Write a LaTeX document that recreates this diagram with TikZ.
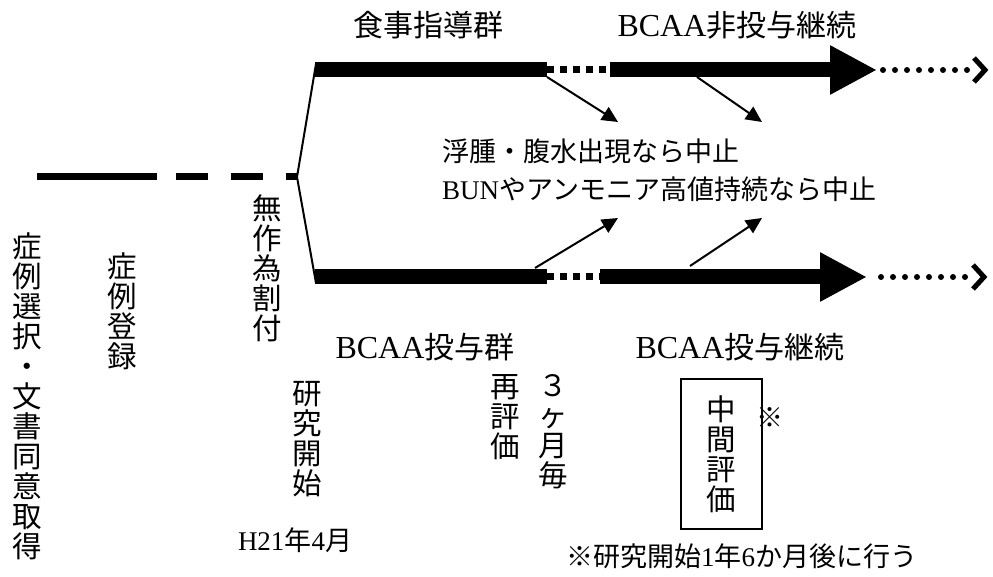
\documentclass[tikz,border=0pt]{standalone}
\usepackage{fontspec}
\setmainfont{Liberation Serif}
\newfontfamily\cjk{Noto Sans CJK JP}
\usetikzlibrary{arrows.meta,calc}
\newcommand\latbig[1]{{\rmfamily\fontsize{32}{34}\selectfont #1}}
\newcommand\latmid[1]{{\rmfamily #1}}
\begin{document}
\begin{tikzpicture}[x=1pt,y=-1pt,
 lbl/.style={inner sep=0pt,font=\fontsize{27}{30}\selectfont\cjk},
 grp/.style={inner sep=0pt,font=\fontsize{30}{34}\selectfont\cjk},
 vt/.style={inner sep=0pt,font=\fontsize{29.5}{30}\selectfont\cjk,align=center,anchor=north},
 bar/.style={line width=15pt},
 bararrow/.style={bar,-{Triangle[length=47pt,width=46pt]}},
 sqdots/.style={line width=7pt,dash pattern=on 7pt off 6pt},
 rdots/.style={line width=6pt,line cap=round,dash pattern=on 0pt off 12pt},
 chev/.style={line width=5pt,miter limit=10},
 thinline/.style={line width=2pt},
 smallarrow/.style={line width=2pt,-{Triangle[length=16pt,width=15pt]}},
 lead/.style={line width=7pt,dash pattern=on 120pt off 19pt on 32pt off 23pt on 32pt off 23pt on 11pt off 100pt}]
\useasboundingbox (0,0) rectangle (993,577);
% lead line
\coordinate (s) at (37,177);
\coordinate (b) at (297,177);
\draw[lead] (s) -- (b);
% top branch
\coordinate (tc) at (316,64);
\coordinate (t0) at (315,70);
\coordinate (t1) at (547,70);
\coordinate (t2) at (610,70);
\coordinate (t3) at (877,70);
\coordinate (t4) at (883,70);
\coordinate (t5) at (967,70);
\coordinate (t6) at (985,70);
\draw[thinline] (b) -- (tc);
\draw[bar] (t0) -- (t1);
\draw[sqdots] (t1) -- (t2);
\draw[bararrow] (t2) -- (t3);
\draw[rdots] (t4) -- (t5);
\draw[chev] ($(t6)+(-11,-12)$) -- (t6) -- ($(t6)+(-11,12)$);
% bottom branch
\coordinate (bc) at (316,283);
\coordinate (u0) at (315,277);
\coordinate (u1) at (547,277);
\coordinate (u2) at (600,277);
\coordinate (u3) at (867,277);
\coordinate (u4) at (881,277);
\coordinate (u5) at (965,277);
\coordinate (u6) at (984,277);
\draw[thinline] (b) -- (bc);
\draw[bar] (u0) -- (u1);
\draw[sqdots] (u1) -- (u2);
\draw[bararrow] (u2) -- (u3);
\draw[rdots] (u4) -- (u5);
\draw[chev] ($(u6)+(-11,-12)$) -- (u6) -- ($(u6)+(-11,12)$);
% small arrows
\coordinate (a1s) at (547,77); \coordinate (a1e) at (618,122);
\coordinate (a2s) at (697,77); \coordinate (a2e) at (762,122);
\coordinate (a3s) at (535,268); \coordinate (a3e) at (618,218);
\coordinate (a4s) at (690,266); \coordinate (a4e) at (762,218);
\draw[smallarrow] (a1s) -- (a1e);
\draw[smallarrow] (a2s) -- (a2e);
\draw[smallarrow] (a3s) -- (a3e);
\draw[smallarrow] (a4s) -- (a4e);
% labels
\node[grp] (g1) at (428,25) {食事指導群};
\node[grp] (g2) at (737,25) {\latbig{BCAA}非投与継続};
\node[grp] (g3) at (425,347) {\latbig{BCAA}投与群};
\node[grp] (g4) at (740,347) {\latbig{BCAA}投与継続};
\node[lbl,anchor=west] (c1) at (442,151) {浮腫・腹水出現なら中止};
\node[lbl,anchor=west] (c2) at (442,189) {\latmid{BUN}やアンモニア高値持続なら中止};
% vertical texts
\node[vt] (v1) at (27,233) {症\\例\\選\\択\\・\\文\\書\\同\\意\\取\\得};
\node[vt] (v2) at (122,253) {症\\例\\登\\録};
\node[vt] (v3) at (267,195) {無\\作\\為\\割\\付};
\node[vt] (v4) at (307,381) {研\\究\\開\\始};
\node[lbl] (d1) at (295,540) {\latmid{H21}年\latmid{4}月};
\node[vt] (v5) at (505,374) {再\\評\\価};
\node[vt] (v6) at (553,374) {３\\ヶ\\月\\毎};
\node[vt,anchor=center,draw,line width=2pt,minimum width=81pt,minimum height=150pt] (box) at (721.5,454) {中\\間\\評\\価};
\node[lbl] (star) at (770,418) {※};
\node[lbl,anchor=west] (note) at (566,556) {※研究開始\latmid{1}年\latmid{6}か月後に行う};
\end{tikzpicture}
\end{document}
